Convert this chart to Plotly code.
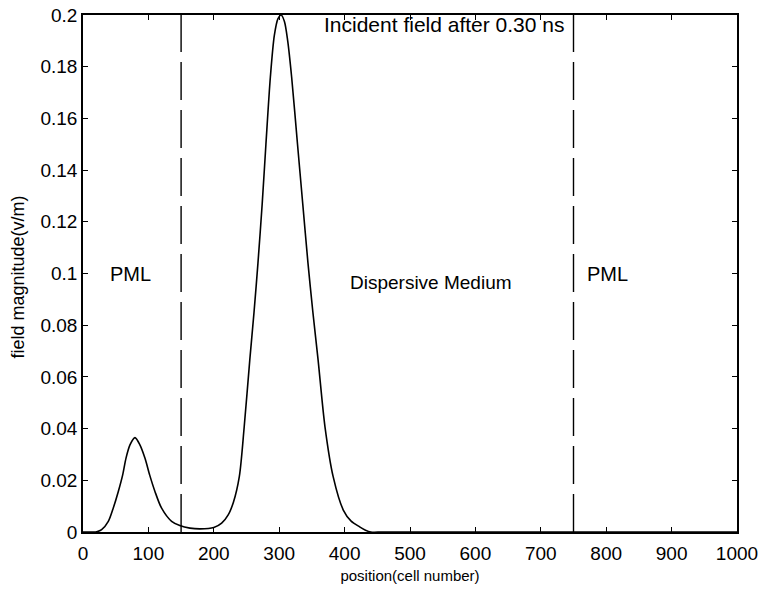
import plotly.graph_objects as go

# position (cell number) and field magnitude (V/m)
position = [0, 15, 21, 28.5, 38.7, 46.3, 54, 60.6, 65.7, 71.8, 79.5, 87, 94.8, 102, 110, 120,
            135.5, 148, 163.5, 179, 200, 212, 222, 230, 239, 246.5, 255, 261.5, 267.5, 274,
            279.7, 286.5, 292.5, 298, 303, 308, 313, 319, 328, 336, 344, 351.5, 359.5, 370,
            382.5, 398, 410, 423, 432, 440, 460, 1000]
field = [0, 0, 0.0001, 0.0009, 0.0041, 0.0093, 0.0157, 0.022, 0.0285, 0.0337, 0.0365, 0.0337,
         0.0285, 0.022, 0.0157, 0.0093, 0.0041, 0.0025, 0.0015, 0.0012, 0.0017, 0.0034, 0.0066,
         0.0115, 0.0214, 0.0407, 0.0665, 0.085, 0.104, 0.127, 0.150, 0.176, 0.192, 0.1985, 0.2,
         0.1975, 0.19, 0.176, 0.150, 0.127, 0.104, 0.085, 0.0665, 0.0407, 0.0214, 0.0085, 0.0042,
         0.002, 0.0007, 0.0, 0.0, 0.0]

boundaries = [150, 750]
x_ticks = [0, 100, 200, 300, 400, 500, 600, 700, 800, 900, 1000]
y_ticks = [0, 0.02, 0.04, 0.06, 0.08, 0.1, 0.12, 0.14, 0.16, 0.18, 0.2]
y_tick_text = ["0", "0.02", "0.04", "0.06", "0.08", "0.1", "0.12", "0.14", "0.16", "0.18", "0.2"]

labels = [
    ("Incident field after 0.30 ns", 740, 0.1965, 21, "right"),
    ("PML", 73, 0.1, 20, "center"),
    ("Dispersive Medium", 532, 0.0965, 19, "center"),
    ("PML", 802, 0.1, 20, "center"),
]

FONT = "Liberation Sans, Arial, sans-serif"

fig = go.Figure()
fig.add_trace(go.Scatter(x=position, y=field, mode="lines",
                         line=dict(color="black", width=1.6, shape="spline", smoothing=0.8),
                         showlegend=False, hoverinfo="skip"))
for b in boundaries:
    fig.add_trace(go.Scatter(x=[b, b], y=[0, 0.2], mode="lines",
                             line=dict(color="black", width=1.4, dash="38px,10px"),
                             showlegend=False, hoverinfo="skip"))

for text, xv, yv, size, anchor in labels:
    fig.add_annotation(x=xv, y=yv, text=text, showarrow=False,
                       font=dict(family=FONT, size=size, color="black"),
                       xanchor=anchor, yanchor="middle")

# y-axis title placed as rotated text, as in the reference
fig.add_annotation(xref="paper", yref="paper", x=-0.0994, y=0.494, text="field magnitude(v/m)",
                   textangle=-90, showarrow=False, xanchor="center", yanchor="middle",
                   font=dict(family=FONT, size=18, color="black"))

axis_common = dict(showgrid=False, zeroline=False, showline=True, linecolor="black",
                   linewidth=1.5, mirror="ticks", ticks="inside", ticklen=5, tickwidth=1,
                   tickcolor="black", automargin=False,
                   tickfont=dict(family=FONT, size=19, color="black"))

fig.update_xaxes(range=[0, 1000], tickvals=x_ticks, ticklabelstandoff=3, **axis_common,
                 title=dict(text="position(cell number)", font=dict(family=FONT, size=15, color="black"),
                            standoff=8))
fig.update_yaxes(range=[0, 0.2], tickvals=y_ticks, ticktext=y_tick_text, **axis_common)

fig.update_layout(width=761, height=590, margin=dict(l=83, r=24, t=15, b=58),
                  paper_bgcolor="white", plot_bgcolor="white")

fig.write_html("out.html")
